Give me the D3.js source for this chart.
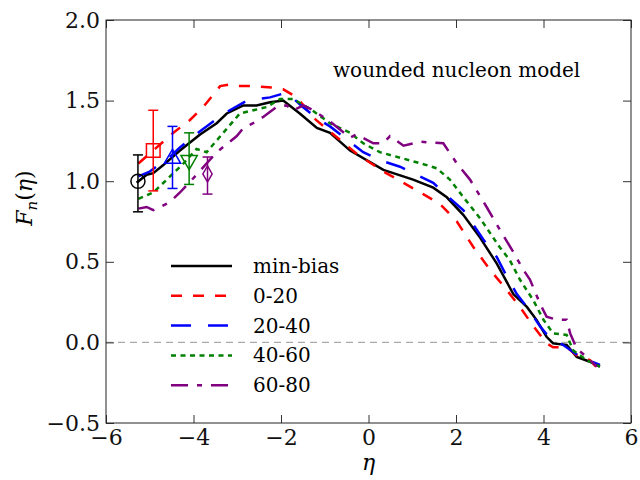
<!DOCTYPE html>
<html>
<head>
<meta charset="utf-8">
<script src="https://cdn.jsdelivr.net/npm/d3@7"></script>
<style>
  body { margin: 0; background: #fff; }
  text { font-family: "DejaVu Serif", serif; }
</style>
</head>
<body>
<div id="chart"></div>
<script>
// Data
const etaMinBias = [-5.3, -5.07, -4.92, -4.69, -4.31, -3.85, -3.47, -3.24, -2.86, -2.56, -2.25, -1.95, -1.57, -1.18, -0.88, -0.42, 0.34, 1.02, 1.48, 1.79, 2.17, 2.55, 2.93, 3.31, 3.62, 3.84, 4.07, 4.22, 4.53, 4.76, 5.06, 5.29];
const minBias    = [0.99, 1.04, 1.05, 1.10, 1.19, 1.29, 1.36, 1.42, 1.47, 1.47, 1.49, 1.50, 1.42, 1.33, 1.30, 1.19, 1.07, 1.01, 0.96, 0.90, 0.79, 0.65, 0.49, 0.30, 0.22, 0.14, 0.035, -0.006, -0.016, -0.09, -0.12, -0.15];

const eta0_20 = [-5.26, -4.84, -4.46, -4.08, -3.78, -3.39, -3.17, -3.01, -2.63, -2.18, -1.95, -1.64, -1.2, -0.8, -0.27, 0.34, 0.80, 1.25, 1.63, 2.02, 2.40, 2.78, 3.16, 3.46, 3.77, 4.07, 4.22, 4.53, 4.76, 5.06, 5.2];
const val0_20 = [1.11, 1.21, 1.30, 1.38, 1.46, 1.59, 1.60, 1.59, 1.59, 1.58, 1.57, 1.52, 1.38, 1.29, 1.17, 1.06, 0.99, 0.92, 0.86, 0.75, 0.59, 0.45, 0.325, 0.22, 0.10, -0.006, -0.03, -0.03, -0.08, -0.11, -0.15];

const eta20_40 = [-5.26, -5.0, -4.54, -4.31, -3.85, -3.55, -3.17, -2.78, -2.25, -1.87, -1.5, -1.18, -0.88, -0.5, -0.12, 0.26, 0.72, 1.10, 1.48, 1.79, 2.17, 2.62, 2.93, 3.16, 3.39, 3.62, 3.92, 4.15, 4.45, 4.84, 5.29];
const val20_40 = [1.03, 1.06, 1.15, 1.21, 1.31, 1.37, 1.44, 1.50, 1.52, 1.55, 1.46, 1.39, 1.34, 1.26, 1.18, 1.13, 1.09, 1.04, 0.99, 0.91, 0.82, 0.64, 0.53, 0.41, 0.30, 0.22, 0.10, 0.025, -0.016, -0.09, -0.14];

const eta40_60 = [-5.26, -4.92, -4.61, -4.23, -3.93, -3.70, -3.32, -2.94, -2.63, -2.33, -2.02, -1.72, -1.34, -0.88, -0.42, -0.12, 0.26, 0.80, 1.33, 1.56, 1.86, 2.17, 2.55, 3.0, 3.23, 3.46, 3.77, 4.0, 4.22, 4.53, 4.68, 4.99, 5.29];
const val40_60 = [0.89, 0.93, 1.01, 1.11, 1.20, 1.18, 1.30, 1.42, 1.44, 1.46, 1.51, 1.51, 1.45, 1.36, 1.30, 1.235, 1.18, 1.14, 1.10, 1.08, 1.01, 0.90, 0.77, 0.59, 0.51, 0.39, 0.26, 0.14, 0.056, 0.046, -0.05, -0.11, -0.15];

const eta60_80 = [-5.26, -5.07, -4.92, -4.54, -4.31, -3.93, -3.47, -3.01, -2.86, -2.56, -2.4, -2.1, -1.87, -1.72, -1.49, -1.26, -0.88, -0.42, -0.27, 0.11, 0.34, 0.49, 0.80, 1.18, 1.41, 1.71, 2.02, 2.32, 2.70, 3.0, 3.31, 3.54, 3.69, 3.92, 4.07, 4.30, 4.53, 4.61, 4.76, 4.99, 5.22];
const val60_80 = [0.83, 0.84, 0.82, 0.87, 0.93, 1.04, 1.18, 1.28, 1.33, 1.37, 1.40, 1.46, 1.47, 1.44, 1.47, 1.44, 1.37, 1.27, 1.29, 1.235, 1.235, 1.28, 1.22, 1.245, 1.24, 1.235, 1.11, 1.01, 0.84, 0.70, 0.56, 0.45, 0.39, 0.24, 0.16, 0.14, 0.14, 0.056, -0.04, -0.09, -0.15];

// Data points with error bars
const pointEta = [-5.27, -4.92, -4.48, -4.10, -3.68];
const pointVal = [1.00, 1.19, 1.14, 1.13, 1.045];
const pointLow = [0.81, 0.94, 0.955, 0.98, 0.92];
const pointHigh = [1.163, 1.44, 1.34, 1.30, 1.15];

const seriesNames = ["min-bias", "0-20", "20-40", "40-60", "60-80"];
const seriesColors = ["black", "red", "blue", "green", "purple"];
const seriesDashes = [null, "11,11", "20,17", "5,4.5", "17,9,5,9"];
const seriesEta = [etaMinBias, eta0_20, eta20_40, eta40_60, eta60_80];
const seriesVal = [minBias, val0_20, val20_40, val40_60, val60_80];
const markerTypes = ["circle", "square", "triangleUp", "triangleDown", "diamond"];

const xTicks = [-6, -4, -2, 0, 2, 4, 6];
const yTicks = [-0.5, 0.0, 0.5, 1.0, 1.5, 2.0];

// Set the dimensions and margins of the graph
const margin = {top: 20, right: 9, bottom: 57, left: 106},
      width = 640 - margin.left - margin.right,
      height = 480 - margin.top - margin.bottom;

const svg = d3.select("#chart")
  .append("svg")
    .attr("width", 640)
    .attr("height", 480)
  .append("g")
    .attr("transform", `translate(${margin.left},${margin.top})`);

const x = d3.scaleLinear().domain([-6, 6]).range([0, width]);
const y = d3.scaleLinear().domain([-0.5, 2.0]).range([height, 0]);

// zero line
svg.append("line")
  .attr("x1", 0).attr("x2", width)
  .attr("y1", y(0)).attr("y2", y(0))
  .attr("stroke", "#aaa")
  .attr("stroke-width", 1.3)
  .attr("stroke-dasharray", "7,5");

// Curves
const line = d3.line().x(d => x(d[0])).y(d => y(d[1]));
seriesNames.forEach((name, i) => {
  const pts = seriesEta[i].map((e, j) => [e, seriesVal[i][j]]);
  svg.append("path")
    .datum(pts)
    .attr("fill", "none")
    .attr("stroke", seriesColors[i])
    .attr("stroke-width", 2.5)
    .attr("stroke-dasharray", seriesDashes[i])
    .attr("d", line);
});

// Error bars and markers
const shapes = {
  circle: d3.symbolCircle,
  square: d3.symbolSquare,
  triangleUp: d3.symbolTriangle,
  triangleDown: d3.symbolTriangle,
  diamond: d3.symbolDiamond
};
const sizes = {circle: 155, square: 185, triangleUp: 115, triangleDown: 115, diamond: 75};
pointEta.forEach((e, i) => {
  const g = svg.append("g").attr("stroke", seriesColors[i]).attr("fill", "none").attr("stroke-width", 1.5);
  const cx = x(e);
  g.append("line").attr("x1", cx).attr("x2", cx).attr("y1", y(pointLow[i])).attr("y2", y(pointHigh[i]));
  g.append("line").attr("x1", cx - 5).attr("x2", cx + 5).attr("y1", y(pointLow[i])).attr("y2", y(pointLow[i]));
  g.append("line").attr("x1", cx - 5).attr("x2", cx + 5).attr("y1", y(pointHigh[i])).attr("y2", y(pointHigh[i]));
  const t = markerTypes[i];
  let tr = `translate(${cx},${y(pointVal[i])})`;
  if (t === "triangleDown") tr += " rotate(180)";
  g.append("path")
    .attr("d", d3.symbol().type(shapes[t]).size(sizes[t])())
    .attr("transform", tr);
});

// Axes (ticks inward on all sides)
const tickLen = 8;
svg.append("g")
  .attr("transform", `translate(0,${height})`)
  .call(d3.axisBottom(x).tickValues(xTicks).tickSizeInner(-tickLen).tickSizeOuter(0).tickPadding(6).tickFormat(d3.format("d")));
svg.append("g")
  .call(d3.axisTop(x).tickValues(xTicks).tickSizeInner(-tickLen).tickSizeOuter(0).tickFormat(""));
svg.append("g")
  .call(d3.axisLeft(y).tickValues(yTicks).tickSizeInner(-tickLen).tickSizeOuter(0).tickPadding(6).tickFormat(d3.format(".1f")));
svg.append("g")
  .attr("transform", `translate(${width},0)`)
  .call(d3.axisRight(y).tickValues(yTicks).tickSizeInner(-tickLen).tickSizeOuter(0).tickFormat(""));

svg.selectAll(".domain").remove();
svg.selectAll(".tick line").attr("stroke", "#333").attr("stroke-width", 1);
svg.selectAll(".tick text")
  .style("font-family", "DejaVu Serif")
  .style("font-size", "22px")
  .attr("fill", "#111");

svg.append("rect")
  .attr("width", width).attr("height", height)
  .attr("fill", "none").attr("stroke", "#222").attr("stroke-width", 1);

// Title
svg.append("text")
  .attr("x", 333 - margin.left)
  .attr("y", 77 - margin.top)
  .style("font-size", "20px")
  .text("wounded nucleon model");

// Axis labels
svg.append("text")
  .attr("x", width / 2)
  .attr("y", 470 - margin.top)
  .attr("text-anchor", "middle")
  .style("font-size", "22px")
  .style("font-style", "italic")
  .text("η");

const yl = svg.append("text")
  .attr("transform", `translate(${32 - margin.left},${198 - margin.top}) rotate(-90)`)
  .attr("text-anchor", "middle")
  .style("font-size", "22px");
yl.append("tspan").style("font-style", "italic").text("F");
yl.append("tspan").style("font-style", "italic").style("font-size", "15px").attr("dy", 5).text("n");
yl.append("tspan").attr("dy", -5).text("(");
yl.append("tspan").style("font-style", "italic").text("η");
yl.append("tspan").text(")");

// Legend
const legend = svg.append("g").attr("transform", `translate(${171 - margin.left},${266 - margin.top})`);
seriesNames.forEach((name, i) => {
  const ly = i * 29.8;
  legend.append("line")
    .attr("x1", 0).attr("x2", 61)
    .attr("y1", ly).attr("y2", ly)
    .attr("stroke", seriesColors[i])
    .attr("stroke-width", 2.5)
    .attr("stroke-dasharray", seriesDashes[i]);
  legend.append("text")
    .attr("x", 82)
    .attr("y", ly + 7)
    .style("font-size", "20px")
    .text(name);
});
</script>
</body>
</html>
